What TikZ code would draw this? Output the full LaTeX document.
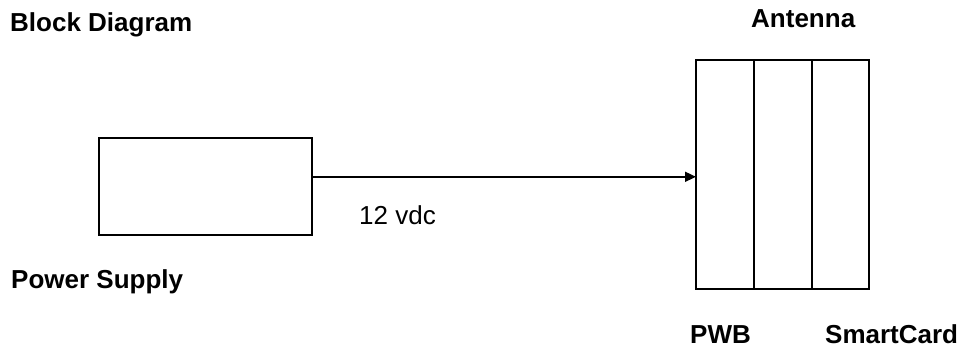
\documentclass[tikz,border=0pt]{standalone}
\usepackage{fontspec}
\setmainfont{Liberation Sans}
\usetikzlibrary{arrows.meta,calc}
\begin{document}
\begin{tikzpicture}[x=1pt,y=-1pt,
  box/.style={draw=black,line width=1.6pt,fill=none,inner sep=0pt,outer sep=0pt},
  lbl/.style={anchor=base west,inner sep=0pt,font=\fontsize{26}{30}\selectfont\bfseries},
  lblr/.style={anchor=base west,inner sep=0pt,font=\fontsize{26}{30}\selectfont},
  conn/.style={line width=1.6pt,-{Triangle[length=11pt,width=10pt]}}]
\useasboundingbox (0,0) rectangle (960,353);
% boxes
\node[box,minimum width=213pt,minimum height=97pt] (ps) at (205.5,186.5) {};
\node[box,minimum width=58pt,minimum height=229pt] (pwb) at (725,174.5) {};
\node[box,minimum width=58pt,minimum height=229pt] (mid) at (783,174.5) {};
\node[box,minimum width=57pt,minimum height=229pt] (sc) at (840.5,174.5) {};
% connector
\coordinate (out) at ($(ps.north east)!0.4!(ps.south east)$);
\draw[conn] (out) -- (pwb.west |- out);
% labels
\node[lbl] (title) at (10,32) {Block Diagram};
\node[lbl] (ant) at (751,28) {Antenna};
\node[lbl] (psl) at (11,288) {Power Supply};
\node[lblr] (v) at (359,224) {12 vdc};
\node[lbl] (pwbl) at (690,343) {PWB};
\node[lbl] (scl) at (825,343) {SmartCard};
\end{tikzpicture}
\end{document}
